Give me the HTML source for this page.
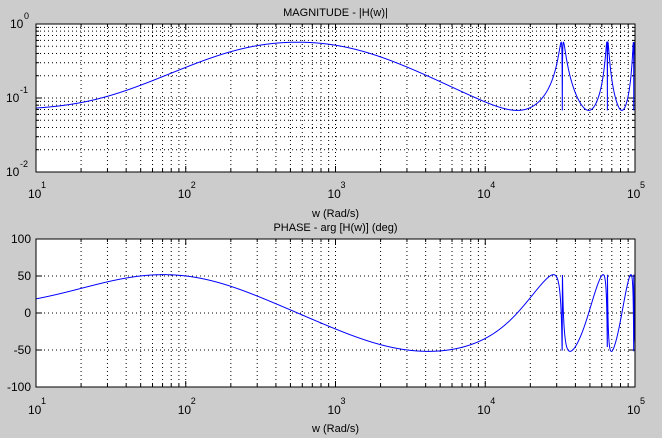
<!DOCTYPE html>
<html><head><meta charset="utf-8"><style>
html,body{margin:0;padding:0;background:#cccccc;}
svg{display:block;font-family:"Liberation Sans",Arial,sans-serif;font-size:11px;}
</style></head><body>
<svg id="s" width="662" height="438" xmlns="http://www.w3.org/2000/svg"></svg>
<script>
const s=document.getElementById('s');
const X0=36,X1=635,DEC=(X1-X0)/4;
function xp(w){return X0+(Math.log10(w)-1)*DEC;}
let h='';
function axes(top,bot){
  h+=`<rect x="${X0}" y="${top}" width="${X1-X0}" height="${bot-top}" fill="#fff"/>`;
  for(let d=1;d<5;d++)for(let m=1;m<10;m++){
    const w=Math.pow(10,d)*m; if(w>=1e5) break; const x=xp(w);
    if(x<=X0+0.5) continue;
    h+=`<line x1="${x}" y1="${top}" x2="${x}" y2="${bot}" stroke="#000" stroke-width="1" stroke-dasharray="1,3"/>`;
    const tl=m==1?6:3;
    h+=`<line x1="${x}" y1="${top}" x2="${x}" y2="${top+tl}" stroke="#000"/><line x1="${x}" y1="${bot}" x2="${x}" y2="${bot-tl}" stroke="#000"/>`;
  }
}
function hgrid(y,top,bot,tl){
  h+=`<line x1="${X0}" y1="${y}" x2="${X1}" y2="${y}" stroke="#000" stroke-dasharray="1,3"/>`;
  h+=`<line x1="${X0}" y1="${y}" x2="${X0+tl}" y2="${y}" stroke="#000"/><line x1="${X1}" y1="${y}" x2="${X1-tl}" y2="${y}" stroke="#000"/>`;
}
function xlabels(by){
  for(let d=1;d<=5;d++){const x=xp(Math.pow(10,d));
    h+=`<text x="${x-8}" y="${by}" font-size="12">10</text><text x="${x+5}" y="${by-10}" font-size="9">${d}</text>`;}
}
const T1=24,B1=172;
axes(T1,B1);
function ym(v){return T1+(-Math.log10(v))*(B1-T1)/2;}
for(let d=-2;d<0;d++)for(let m=1;m<10;m++){const v=Math.pow(10,d)*m;const y=ym(v);if(y>=B1-0.5)continue;hgrid(y,T1,B1,m==1?6:3);}
const T2=239,B2=387;
axes(T2,B2);
function yp(p){return T2+(100-p)*(B2-T2)/200;}
for(let p=-50;p<=50;p+=50)hgrid(yp(p),T2,B2,6);
const ws=32700,T=2*Math.PI/ws,K=0.068,w1=25,w2=250,w3=1250,w4=12500;
function H(w){const O=(2/T)*Math.tan(w*T/2);
  let re=K,im=0;
  function mul(a,b){const r=re*a-im*b,i=re*b+im*a;re=r;im=i;}
  function div(a,b){const d=a*a+b*b;mul(a/d,-b/d);}
  mul(1,O/w1);div(1,O/w2);mul(1,O/w4);div(1,O/w3);
  return [Math.hypot(re,im),Math.atan2(im,re)*180/Math.PI];}
let pts=[];const N=6000;
for(let i=0;i<=N;i++)pts.push(Math.pow(10,1+4*i/N));
[ws,2*ws,3*ws].forEach(v=>{pts.push(v);pts.push(v*0.9995);pts.push(v*1.0005);});
pts.sort((a,b)=>a-b);
let pm='',pp='';
pts.forEach((w,i)=>{if(w>1e5)return;const [m,p]=H(w);const x=xp(w).toFixed(2);
  pm+=(i?'L':'M')+x+','+ym(Math.max(m,0.01)).toFixed(2);
  pp+=(i?'L':'M')+x+','+yp(p).toFixed(2);});
h+=`<path d="${pm}" fill="none" stroke="#0000ff" stroke-width="1"/>`;
h+=`<path d="${pp}" fill="none" stroke="#0000ff" stroke-width="1"/>`;
h+=`<rect x="${X0}" y="${T1}" width="${X1-X0}" height="${B1-T1}" fill="none" stroke="#000"/>`;
h+=`<rect x="${X0}" y="${T2}" width="${X1-X0}" height="${B2-T2}" fill="none" stroke="#000"/>`;
const mid=(X0+X1)/2;
h+=`<text x="${mid}" y="16" text-anchor="middle">MAGNITUDE - |H(w)|</text>`;
[[0,'0'],[-1,'-1'],[-2,'-2']].forEach(([d,t])=>{const y=ym(Math.pow(10,d));
  h+=`<text x="${d==0?10:6}" y="${y+4}" font-size="12">10</text><text x="${d==0?24:20}" y="${y-5}" font-size="9">${t}</text>`;});
xlabels(198);
h+=`<text x="${mid}" y="217" text-anchor="middle">w (Rad/s)</text>`;
h+=`<text x="${mid}" y="231" text-anchor="middle">PHASE - arg [H(w)] (deg)</text>`;
[100,50,0,-50,-100].forEach(p=>{h+=`<text x="31" y="${yp(p)+4}" text-anchor="end" font-size="12">${p}</text>`;});
xlabels(414);
h+=`<text x="${mid}" y="432" text-anchor="middle">w (Rad/s)</text>`;
s.innerHTML=h;
</script>
</body></html>
